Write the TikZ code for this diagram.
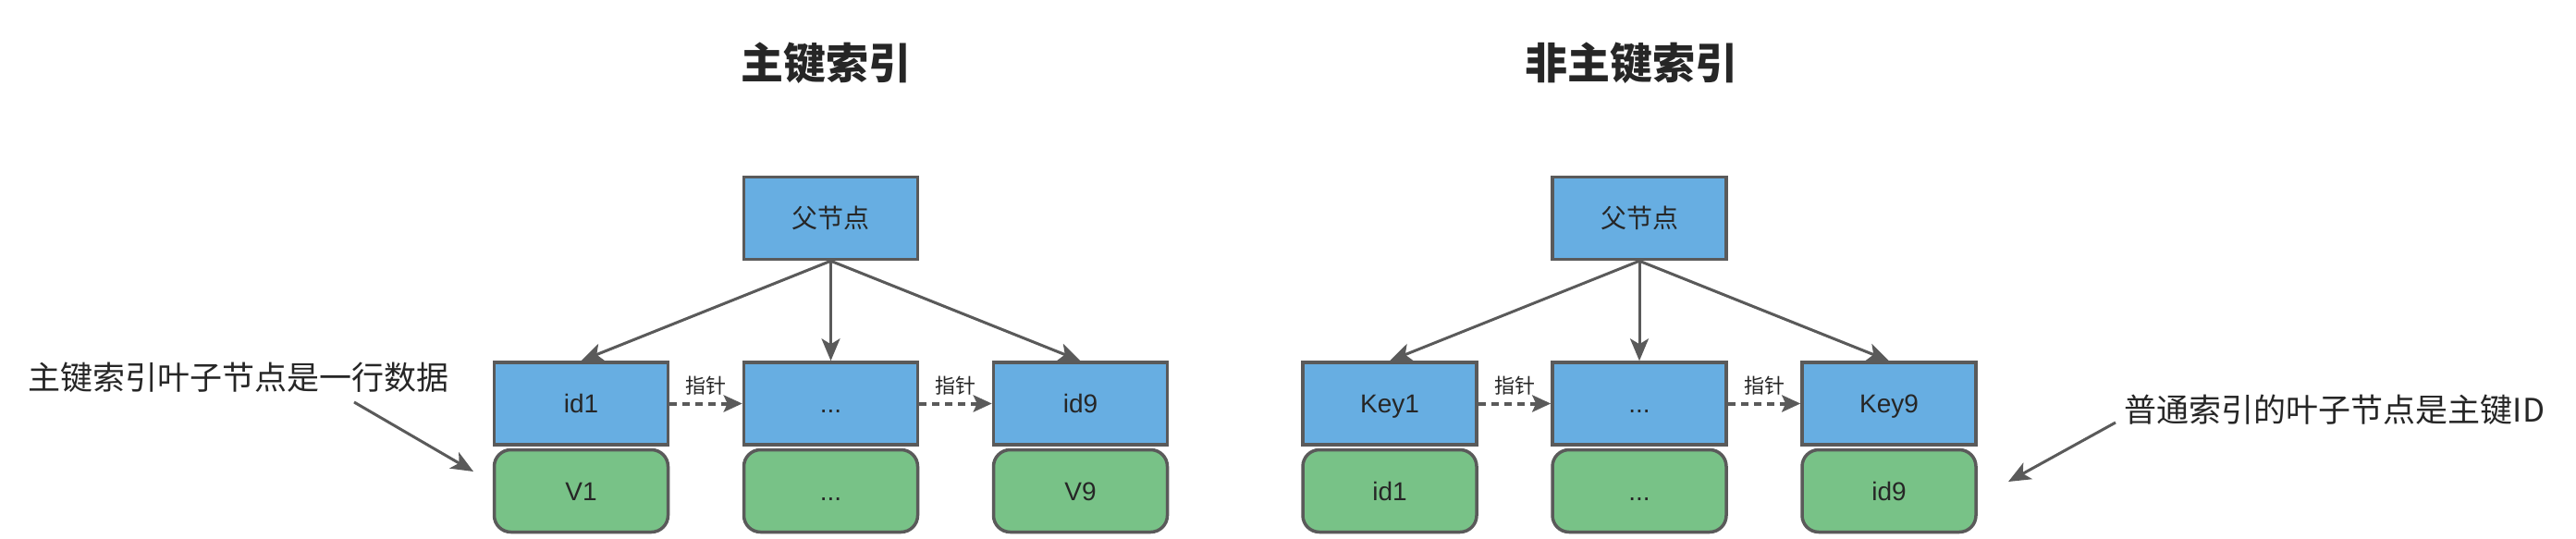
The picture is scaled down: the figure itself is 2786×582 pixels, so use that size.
\documentclass[tikz,border=0pt]{standalone}
\usepackage{fontspec}
\setmainfont{Liberation Sans}
\newfontfamily\cjk{Noto Sans CJK SC}
\usetikzlibrary{arrows.meta}
\definecolor{bluefill}{HTML}{67AEE2}
\definecolor{greenfill}{HTML}{78C287}
\definecolor{edgegray}{HTML}{5A5A5A}
\definecolor{ink}{HTML}{262626}
\begin{document}
\begin{tikzpicture}[x=1pt,y=-1pt,
  keybox/.style={draw=edgegray, line width=3.5pt, fill=bluefill, minimum width=188pt, minimum height=89pt, inner sep=0pt, text=ink, font=\fontsize{28}{34}\selectfont, text height=20pt, text depth=0pt},
  valbox/.style={keybox, fill=greenfill, rounded corners=18pt},
  treearrow/.style={draw=edgegray, line width=3pt, -{Stealth[length=24pt,width=20pt,inset=6pt]}},
  ptrarrow/.style={draw=edgegray, line width=4pt, dash pattern=on 8pt off 6pt, -{Stealth[length=20pt,width=18pt,inset=4pt]}},
  ptrlabel/.style={text=ink, font=\cjk\fontsize{22}{26}\selectfont, inner sep=0pt},
  notearrow/.style={draw=edgegray, line width=3pt, -{Stealth[length=24pt,width=20pt,inset=6pt]}},
  note/.style={text=ink, font=\cjk\fontsize{35}{42}\selectfont, inner sep=0pt},
  titletext/.style={text=ink, font=\cjk\bfseries\fontsize{46}{55}\selectfont, inner sep=0pt}
]
\fill[white] (0,0) rectangle (2786,582);
\useasboundingbox (0,0) rectangle (2786,582);

% titles
\node[titletext] (t1) at (893,68) {主键索引};
\node[titletext] (t2) at (1764,68) {非主键索引};

% left tree
\node[keybox] (lp) at (898.5,236) {\cjk 父节点};
\node[keybox] (lk1) at (628.5,436.5) {id1};
\node[keybox] (lk2) at (898.5,436.5) {...};
\node[keybox] (lk3) at (1168.5,436.5) {id9};
\node[valbox] (lv1) at (628.5,531) {V1};
\node[valbox] (lv2) at (898.5,531) {...};
\node[valbox] (lv3) at (1168.5,531) {V9};
\draw[treearrow] (lp.south) -- (lk1.north);
\draw[treearrow] (lp.south) -- (lk2.north);
\draw[treearrow] (lp.south) -- (lk3.north);
\draw[ptrarrow] (lk1.east) -- node[ptrlabel, midway, yshift=19pt] {指针} (lk2.west);
\draw[ptrarrow] (lk2.east) -- node[ptrlabel, midway, yshift=19pt] {指针} (lk3.west);

% right tree
\node[keybox] (rp) at (1773,236) {\cjk 父节点};
\node[keybox] (rk1) at (1503,436.5) {Key1};
\node[keybox] (rk2) at (1773,436.5) {...};
\node[keybox] (rk3) at (2043,436.5) {Key9};
\node[valbox] (rv1) at (1503,531) {id1};
\node[valbox] (rv2) at (1773,531) {...};
\node[valbox] (rv3) at (2043,531) {id9};
\draw[treearrow] (rp.south) -- (rk1.north);
\draw[treearrow] (rp.south) -- (rk2.north);
\draw[treearrow] (rp.south) -- (rk3.north);
\draw[ptrarrow] (rk1.east) -- node[ptrlabel, midway, yshift=19pt] {指针} (rk2.west);
\draw[ptrarrow] (rk2.east) -- node[ptrlabel, midway, yshift=19pt] {指针} (rk3.west);

% annotations
\node[note] (n1) at (258,408) {主键索引叶子节点是一行数据};
\coordinate (a1s) at (383,435);
\coordinate (a1e) at (512,510);
\draw[notearrow] (a1s) -- (a1e);
\node[note] (n2) at (2525,443) {普通索引的叶子节点是主键ID};
\coordinate (a2s) at (2288,457);
\coordinate (a2e) at (2172,521);
\draw[notearrow] (a2s) -- (a2e);
\end{tikzpicture}
\end{document}
